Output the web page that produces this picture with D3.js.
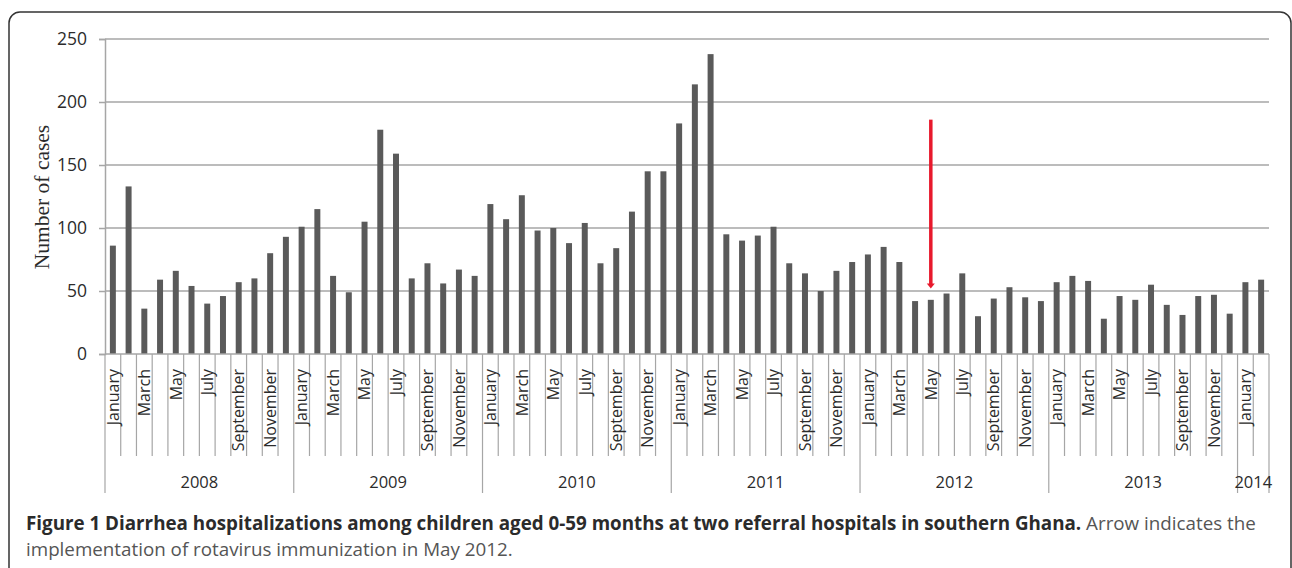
<!DOCTYPE html>
<html>
<head>
<meta charset="utf-8">
<script src="https://cdn.jsdelivr.net/npm/d3@7"></script>
<style>
  html, body { margin: 0; padding: 0; background: #fff; }
  svg { display: block; }
</style>
</head>
<body>
<svg id="chart" width="1292" height="568"></svg>
<script>
// ---- Data ----
const years = ["2008", "2009", "2010", "2011", "2012", "2013", "2014"];
const monthNames = ["January", "February", "March", "April", "May", "June",
                    "July", "August", "September", "October", "November", "December"];
const monthsPerYear = [12, 12, 12, 12, 12, 12, 2];
const cases = [
  86, 133, 36, 59, 66, 54, 40, 46, 57, 60, 80, 93,          // 2008
  101, 115, 62, 49, 105, 178, 159, 60, 72, 56, 67, 62,      // 2009
  119, 107, 126, 98, 100, 88, 104, 72, 84, 113, 145, 145,   // 2010
  183, 214, 238, 95, 90, 94, 101, 72, 64, 50, 66, 73,       // 2011
  79, 85, 73, 42, 43, 48, 64, 30, 44, 53, 45, 42,           // 2012
  57, 62, 58, 28, 46, 43, 55, 39, 31, 46, 47, 32,           // 2013
  57, 59                                                    // 2014
];
const yTicks = [0, 50, 100, 150, 200, 250];
const arrowMonth = "2012-May";
const arrowFrom = 186;
const arrowTo = 52;
const yTitle = "Number of cases";
const captionBold = "Figure 1 Diarrhea hospitalizations among children aged 0-59 months at two referral hospitals in southern Ghana.";
const captionRest1 = " Arrow indicates the";
const captionLine2 = "implementation of rotavirus immunization in May 2012.";

(function () {
// Build category rows
const rows = [];
years.forEach((yr, yi) => {
  for (let m = 0; m < monthsPerYear[yi]; m++) {
    rows.push({ key: yr + "-" + monthNames[m], year: yr, month: monthNames[m], mi: m, value: cases[rows.length] });
  }
});

// ---- Layout ----
const svg = d3.select("#chart");
const mLeft = 105, mRight = 1269, mTop = 39, mBottom = 354;
const gridColor = "#a6a6a6";
const textColor = "#2b2b2b";

// Frame
svg.append("rect")
  .attr("x", 9).attr("y", 12)
  .attr("width", 1282).attr("height", 570)
  .attr("rx", 11).attr("ry", 11)
  .attr("fill", "none").attr("stroke", "#333").attr("stroke-width", 1.5);

const x = d3.scaleBand().domain(rows.map(d => d.key)).range([mLeft, mRight])
  .paddingInner(0.62).paddingOuter(0.31);
const y = d3.scaleLinear().domain([0, 250]).range([mBottom, mTop]);

// Gridlines
svg.append("g").selectAll("line").data(yTicks.filter(t => t > 0)).join("line")
  .attr("x1", mLeft).attr("x2", mRight)
  .attr("y1", d => y(d)).attr("y2", d => y(d))
  .attr("stroke", gridColor).attr("stroke-width", 1.5);

// Y axis
const yAxis = d3.axisLeft(y).tickValues(yTicks).tickSize(6).tickPadding(12).tickFormat(d3.format("d"));
const gy = svg.append("g").attr("transform", `translate(${mLeft},0)`).call(yAxis);
gy.select(".domain").attr("stroke", gridColor).attr("stroke-width", 1.5);
gy.selectAll(".tick line").attr("stroke", gridColor).attr("stroke-width", 1.5);
gy.selectAll(".tick text")
  .attr("font-family", "'Open Sans', sans-serif")
  .attr("font-size", 17.5)
  .attr("fill", textColor);

// Bars
svg.append("g").selectAll("rect").data(rows).join("rect")
  .attr("x", d => x(d.key))
  .attr("width", x.bandwidth())
  .attr("y", d => y(d.value))
  .attr("height", d => y(0) - y(d.value))
  .attr("fill", "#5a5a5a");

// X baseline
svg.append("line")
  .attr("x1", mLeft).attr("x2", mRight)
  .attr("y1", mBottom).attr("y2", mBottom)
  .attr("stroke", gridColor).attr("stroke-width", 1.5);

// Category separator lines
const step = x.step();
const boundaries = d3.range(rows.length + 1).map(i => mLeft + i * step);
let cum = 0;
const yearStarts = new Set([0]);
monthsPerYear.forEach(n => { cum += n; yearStarts.add(cum); });
svg.append("g").selectAll("line").data(boundaries.map((b, i) => ({ b, i }))).join("line")
  .attr("x1", d => d.b).attr("x2", d => d.b)
  .attr("y1", mBottom)
  .attr("y2", d => yearStarts.has(d.i) ? 493 : 456)
  .attr("stroke", gridColor).attr("stroke-width", 1.2);

// Month labels (every other month)
svg.append("g").selectAll("text").data(rows.filter(d => d.mi % 2 === 0)).join("text")
  .attr("transform", d => `translate(${x(d.key) + x.bandwidth() / 2},369) rotate(-90)`)
  .attr("text-anchor", "end")
  .attr("dy", "0.36em")
  .attr("font-family", "'Open Sans', sans-serif")
  .attr("font-size", 16)
  .attr("fill", textColor)
  .text(d => d.month);

// Year labels
let start = 0;
const yearPos = years.map((yr, i) => {
  const s = start; start += monthsPerYear[i];
  return { yr, cx: mLeft + (s + start) / 2 * step };
});
svg.append("g").selectAll("text").data(yearPos).join("text")
  .attr("x", d => d.cx).attr("y", 488)
  .attr("text-anchor", "middle")
  .attr("font-family", "'Open Sans', sans-serif")
  .attr("font-size", 16.5)
  .attr("fill", textColor)
  .text(d => d.yr);

// Y title
svg.append("text")
  .attr("transform", `translate(49,197) rotate(-90)`)
  .attr("text-anchor", "middle")
  .attr("font-family", "'Liberation Serif', 'Times New Roman', serif")
  .attr("font-size", 21.5)
  .attr("fill", textColor)
  .text(yTitle);

// Arrow
const ax = x(arrowMonth) + x.bandwidth() / 2;
svg.append("line")
  .attr("x1", ax).attr("x2", ax)
  .attr("y1", y(arrowFrom)).attr("y2", y(arrowTo) - 4)
  .attr("stroke", "#e8192c").attr("stroke-width", 3.5);
svg.append("path")
  .attr("d", `M${ax - 4},${y(arrowTo) - 5} L${ax + 4},${y(arrowTo) - 5} L${ax},${y(arrowTo)} Z`)
  .attr("fill", "#e8192c");

// Caption
const cap = svg.append("text")
  .attr("x", 26).attr("y", 530)
  .attr("font-family", "'Open Sans', sans-serif")
  .attr("font-size", 18.8);
cap.append("tspan").attr("font-weight", "bold").attr("fill", "#2b2b2b").text(captionBold);
cap.append("tspan").attr("fill", "#555").text(captionRest1);
svg.append("text")
  .attr("x", 26).attr("y", 556)
  .attr("font-family", "'Open Sans', sans-serif")
  .attr("font-size", 18.8)
  .attr("fill", "#555")
  .text(captionLine2);
})();
</script>
</body>
</html>
